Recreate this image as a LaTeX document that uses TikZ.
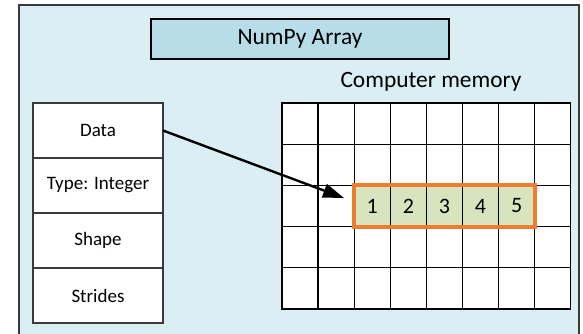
\documentclass[tikz,border=0pt]{standalone}
\usepackage{fontspec}
\setmainfont{Carlito}
\usetikzlibrary{arrows.meta,positioning}

\definecolor{panelblue}{HTML}{DAEEF3}
\definecolor{titleblue}{HTML}{B7DDE8}
\definecolor{cellgreen}{HTML}{D7E4BD}
\definecolor{hiorange}{HTML}{ED7D31}
\definecolor{edgegrey}{HTML}{3A3A3A}

\tikzset{
  fieldbox/.style={draw=edgegrey, line width=1.5pt, fill=white,
    minimum width=130pt, minimum height=55pt, inner sep=0pt, outer sep=0pt,
    font=\fontsize{19}{22}\selectfont},
  memcell/.style={draw=black, line width=1.3pt, fill=white,
    minimum width=36.1pt, minimum height=41.2pt, inner sep=0pt},
  valcell/.style={memcell, fill=cellgreen, font=\fontsize{22}{24}\selectfont},
  pointer/.style={line width=2.4pt, -{Triangle[length=21pt,width=14pt]}}
}

\begin{document}
\begin{tikzpicture}[x=1pt,y=-1pt]
  \useasboundingbox (0,0) rectangle (583,333);
  \begin{scope}
    \clip (0,0) rectangle (583,333);
    % outer panel
    \draw[edgegrey, line width=1.5pt, fill=panelblue] (19,5) rectangle (579,345);
  \end{scope}

  % title
  \node[draw=black, line width=2pt, fill=titleblue, minimum width=298pt,
        minimum height=40pt, inner sep=0pt, font=\fontsize{23.4}{26}\selectfont]
        (title) at (300,39) {NumPy Array};

  \node[font=\fontsize{23.4}{26}\selectfont] (memlabel) at (431,82) {Computer memory};

  % array header fields
  \node[fieldbox] (data)    at (98,130.5) {Data};
  \node[fieldbox, below=0pt of data]  (type)    {Type: Integer};
  \node[fieldbox, below=0pt of type]  (shape)   {Shape};
  \node[fieldbox, below=0pt of shape] (strides) {Strides};

  % memory grid
  \foreach \r in {0,...,4} {
    \foreach \c in {0,...,7} {
      \node[memcell] (cell-\c-\r) at ({282+36.1*(\c+0.5)},{103+41.2*(\r+0.5)}) {};
    }
  }

  % stored values
  \foreach \c/\v in {2/1,3/2,4/3,5/4,6/5} {
    \node[valcell] (val-\v) at ({282+36.1*(\c+0.5)},{103+41.2*2.5}) {\v};
  }
  \draw[hiorange, line width=4pt] (val-1.north west) rectangle (val-5.south east);

  % pointer from data field into memory
  \coordinate (tip) at (344,198);
  \draw[pointer] (data.east) -- (tip);
\end{tikzpicture}
\end{document}
